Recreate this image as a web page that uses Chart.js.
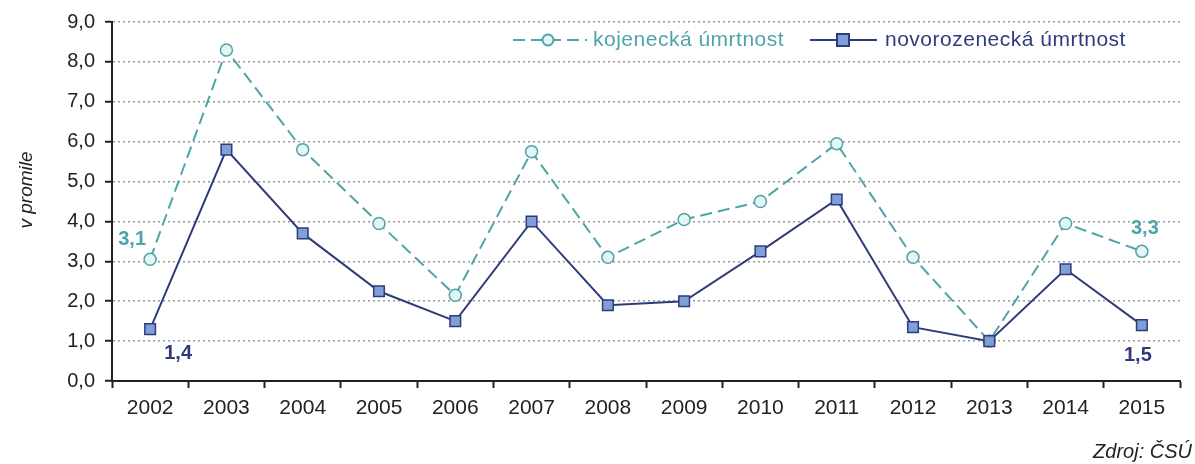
<!DOCTYPE html>
<html>
<head>
<meta charset="utf-8">
<script src="https://cdn.jsdelivr.net/npm/chart.js@4/dist/chart.umd.min.js"></script>
<style>
  html, body { margin: 0; padding: 0; background: #fff; }
  #wrap { width: 1195px; height: 464px; }
</style>
</head>
<body>
<div id="wrap"><canvas id="myChart" width="1195" height="464"></canvas></div>
<script>
const years = ['2002', '2003', '2004', '2005', '2006', '2007', '2008', '2009', '2010', '2011', '2012', '2013', '2014', '2015']
const kojenecka = [3.05, 8.3, 5.8, 3.95, 2.15, 5.75, 3.1, 4.05, 4.5, 5.95, 3.1, 1.0, 3.95, 3.25]
const novorozenecka = [1.3, 5.8, 3.7, 2.25, 1.5, 4.0, 1.9, 2.0, 3.25, 4.55, 1.35, 1.0, 2.8, 1.4]
const seriesNames = ['kojenecká úmrtnost', 'novorozenecká úmrtnost']
// popisky jen u prvniho a posledniho roku
const kojLabels = {0: '3,1', 13: '3,3'}
const novLabels = {0: '1,4', 13: '1,5'}

const tealColor = '#4ea4a8'
const navyColor = '#2e3b7c'
const font = 'Liberation Sans, Arial, sans-serif'

// legenda, popisky dat a texty okolo grafu
const extras = {
  id: 'extras',
  afterDatasetsDraw(chart) {
    const ctx = chart.ctx
    const xs = chart.scales.x
    const ys = chart.scales.y
    ctx.save()

    // datove popisky
    ctx.font = 'bold 20px ' + font
    ctx.textBaseline = 'middle'
    ctx.textAlign = 'center'
    const put = (lbls, arr, color, dx, dy) => {
      ctx.fillStyle = color
      Object.keys(lbls).forEach(i => {
        ctx.fillText(lbls[i], xs.getPixelForValue(+i) + dx[i], ys.getPixelForValue(arr[i]) + dy[i])
      })
    }
    put(kojLabels, kojenecka, tealColor, {0: -18, 13: 3}, {0: -20, 13: -23})
    put(novLabels, novorozenecka, navyColor, {0: 28, 13: -4}, {0: 24, 13: 30})

    // legenda
    const ly = 40
    ctx.lineWidth = 2
    ctx.strokeStyle = tealColor
    ctx.setLineDash([12, 6])
    ctx.beginPath(); ctx.moveTo(513, ly); ctx.lineTo(587, ly); ctx.stroke()
    ctx.setLineDash([])
    ctx.fillStyle = '#e4f5f5'
    ctx.beginPath(); ctx.arc(548, ly, 5.5, 0, Math.PI * 2); ctx.fill(); ctx.stroke()

    ctx.strokeStyle = navyColor
    ctx.beginPath(); ctx.moveTo(810, ly); ctx.lineTo(877, ly); ctx.stroke()
    ctx.fillStyle = '#7f9fd6'
    ctx.fillRect(837, ly - 6, 12, 12); ctx.strokeRect(837, ly - 6, 12, 12)

    ctx.font = '21px ' + font
    ctx.textAlign = 'left'
    ctx.letterSpacing = '0.5px'
    ctx.fillStyle = tealColor
    ctx.fillText(seriesNames[0], 593, ly)
    ctx.fillStyle = navyColor
    ctx.fillText(seriesNames[1], 885, ly)
    ctx.letterSpacing = '0px'

    // nazev osy y
    ctx.fillStyle = '#222'
    ctx.font = 'italic 19px ' + font
    ctx.textAlign = 'center'
    ctx.translate(27, 190)
    ctx.rotate(-Math.PI / 2)
    ctx.fillText('v promile', 0, 0)
    ctx.restore()

    // zdroj
    ctx.save()
    ctx.fillStyle = '#222'
    ctx.font = 'italic 20px ' + font
    ctx.textAlign = 'right'
    ctx.textBaseline = 'middle'
    ctx.fillText('Zdroj: ČSÚ', 1192, 452)
    ctx.restore()
  }
}

const data = {
  labels: years,
  datasets: [
    {
      label: seriesNames[0],
      data: kojenecka,
      order: 1,
      borderColor: tealColor,
      borderWidth: 2,
      borderDash: [12, 6],
      pointStyle: 'circle',
      pointRadius: 6,
      pointBackgroundColor: '#e4f5f5',
      pointBorderColor: tealColor,
      pointBorderWidth: 1.5,
      tension: 0
    },
    {
      label: seriesNames[1],
      data: novorozenecka,
      order: 0,
      borderColor: navyColor,
      borderWidth: 2,
      pointStyle: 'rect',
      pointRadius: 7.5,
      pointBackgroundColor: '#7f9fd6',
      pointBorderColor: navyColor,
      pointBorderWidth: 1.5,
      tension: 0
    }
  ]
}

const config = {
  type: 'line',
  data,
  options: {
    responsive: false,
    animation: false,
    layout: { padding: { top: 21, right: 15, bottom: 0, left: 0 } },
    scales: {
      x: {
        offset: true,
        grid: {
          offset: true,
          drawOnChartArea: false,
          drawTicks: true,
          tickLength: 7,
          tickColor: '#222',
          tickWidth: 2
        },
        border: { display: true, color: '#222', width: 2 },
        ticks: {
          color: '#222',
          padding: 8,
          font: { family: font, size: 21 },
          maxRotation: 0,
          autoSkip: false
        },
        afterFit: s => { s.height = 83 }
      },
      y: {
        min: 0,
        max: 9,
        grid: {
          color: '#9a9a9a',
          lineWidth: 1.5,
          tickLength: 7,
          tickColor: '#222',
          tickWidth: 2,
          tickBorderDash: []
        },
        border: { display: true, color: '#222', width: 2, dash: [2, 3] },
        ticks: {
          stepSize: 1,
          color: '#222',
          padding: 10,
          font: { family: font, size: 20 },
          callback: v => v.toFixed(1).replace('.', ',')
        },
        afterFit: s => { s.width = 112 }
      }
    },
    plugins: {
      legend: { display: false },
      tooltip: { enabled: false }
    }
  },
  plugins: [extras]
}

const myChart = new Chart(document.getElementById('myChart'), config)
</script>
</body>
</html>
